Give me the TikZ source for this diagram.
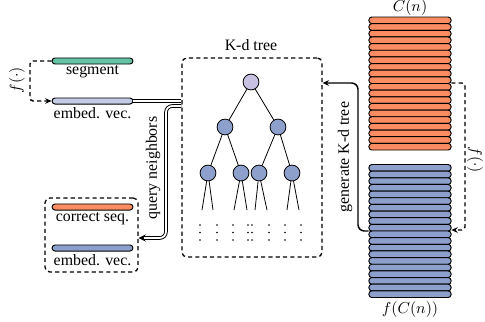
\documentclass[tikz,border=0pt]{standalone}
\usepackage{fontspec}
\setmainfont{Liberation Serif}
\usetikzlibrary{arrows.meta}
\definecolor{corange}{HTML}{FC8D62}
\definecolor{cgreen}{HTML}{66C2A5}
\definecolor{cblue}{HTML}{8DA0CB}
\definecolor{clight}{HTML}{C3CBE6}
\definecolor{clav}{HTML}{C9C1E2}
\tikzset{
  bar/.style={draw, line width=0.6pt, rounded corners=1.9pt, minimum width=51pt, minimum height=3.8pt, inner sep=0pt},
  sbar/.style={draw, line width=0.6pt, rounded corners=1.8pt, minimum width=51.7pt, minimum height=4.19pt, inner sep=0pt},
  stackbox/.style={minimum width=51.7pt, minimum height=83.8pt, inner sep=0pt},
  lbl/.style={inner sep=0pt, font=\fontsize{10}{12}\selectfont},
  dbox/.style={draw, dashed, dash pattern=on 2.6pt off 2pt, line width=0.8pt, rounded corners=3pt, inner sep=0pt},
  fdash/.style={dashed, dash pattern=on 2.6pt off 2pt, line width=0.9pt, rounded corners=2pt, -{Stealth[length=4pt,width=3.5pt]}},
  gen/.style={line width=0.9pt, rounded corners=4pt, -{Stealth[length=4pt,width=3.5pt]}},
  dbl/.style={double, double distance=1.1pt, line width=0.6pt, rounded corners=4pt},
  tnode/.style={circle, draw, line width=0.5pt, fill=cblue, minimum size=10pt, inner sep=0pt},
  tedge/.style={line width=0.5pt},
  tdot/.style={fill, circle, inner sep=0pt, minimum size=1.1pt}
}
\begin{document}
\begin{tikzpicture}[x=0.63pt,y=-0.63pt]
\useasboundingbox (0,0) rectangle (485,321);

% left bars
\node[bar, fill=cgreen] (seg) at (92.5,61) {};
\node[lbl] (segl) at (92.5,72) {segment};
\node[bar, fill=clight] (emb1) at (92.5,101) {};
\node[lbl] (emb1l) at (92.5,113.5) {embed. vec.};

\draw[fdash] (seg.west) -- (30,61) -- (30,101) -- (emb1.west);
\node[lbl, rotate=90] (fl) at (17,80) {$f(\cdot)$};

% lower left box
\node[dbox, minimum width=58.6pt, minimum height=46.6pt] (cbox) at (91.5,235) {};
\node[bar, fill=corange] (cs) at (92.5,207) {};
\node[lbl] (csl) at (92.5,218.5) {correct seq.};
\node[bar, fill=cblue] (emb2) at (92.5,248) {};
\node[lbl] (emb2l) at (92.5,260.5) {embed. vec.};

% kd box
\node[dbox, minimum width=88.2pt, minimum height=125.4pt] (kd) at (252,157.5) {};
\node[lbl] (kdt) at (251,45) {K-d tree};

% tree
\node[tnode, fill=clav] (r) at (251,82) {};
\node[tnode] (a) at (225,127) {};
\node[tnode] (b) at (278,127) {};
\node[tnode] (a1) at (208,173) {};
\node[tnode] (a2) at (241,173) {};
\node[tnode] (b1) at (259,173) {};
\node[tnode] (b2) at (292,173) {};
\draw[tedge] (r) -- (a); \draw[tedge] (r) -- (b);
\draw[tedge] (a) -- (a1); \draw[tedge] (a) -- (a2);
\draw[tedge] (b) -- (b1); \draw[tedge] (b) -- (b2);
\coordinate (l1) at (202,210); \coordinate (l2) at (213,210);
\coordinate (l3) at (234,210); \coordinate (l4) at (247,210);
\coordinate (l5) at (255,210); \coordinate (l6) at (267,210);
\coordinate (l7) at (287,210); \coordinate (l8) at (299,210);
\draw[tedge] (a1) -- (l1); \draw[tedge] (a1) -- (l2);
\draw[tedge] (a2) -- (l3); \draw[tedge] (a2) -- (l4);
\draw[tedge] (b1) -- (l5); \draw[tedge] (b1) -- (l6);
\draw[tedge] (b2) -- (l7); \draw[tedge] (b2) -- (l8);
\foreach \xx in {200,217,233,248,252,269,285,301}
  \foreach \yy in {225,232.5,240}
    \node[tdot] at (\xx,\yy) {};

% double lines
\draw[dbl] (emb1.east) -- (kd.west |- emb1.east);
\coordinate (q1) at (166,106);
\coordinate (q2) at (166,238);
\draw[dbl, -{Stealth[length=4.5pt,width=4.5pt]}] (kd.west |- q1) -- (q1) -- (q2) -- (cbox.east |- q2);
\node[lbl, rotate=90] (ql) at (153,168) {query neighbors};

% stacks
\node[stackbox] (os) at (410,83.5) {};
\node[stackbox] (bs) at (410,231) {};
\foreach \i in {0,...,19} {
  \node[sbar, fill=corange] at (410,{17+6.65*\i+3.325}) {};
  \node[sbar, fill=cblue] at (410,{164.5+6.65*\i+3.325}) {};
}
\node[lbl] (cn) at (410,8) {$C(n)$};
\node[lbl] (fcn) at (410,310) {$f(C(n))$};

% right f arrow
\coordinate (fr1) at (465,83);
\coordinate (fr2) at (465,230);
\draw[fdash] (os.east |- fr1) -- (fr1) -- (fr2) -- (bs.east |- fr2);
\node[lbl, rotate=-90] (fr) at (475,160) {$f(\cdot)$};

% generate arrow
\coordinate (g1) at (358,231);
\coordinate (g2) at (358,83);
\draw[gen] (bs.west |- g1) -- (g1) -- (g2) -- (kd.east |- g2);
\node[lbl, rotate=90] (gl) at (345,157) {generate K-d tree};
\end{tikzpicture}
\end{document}
